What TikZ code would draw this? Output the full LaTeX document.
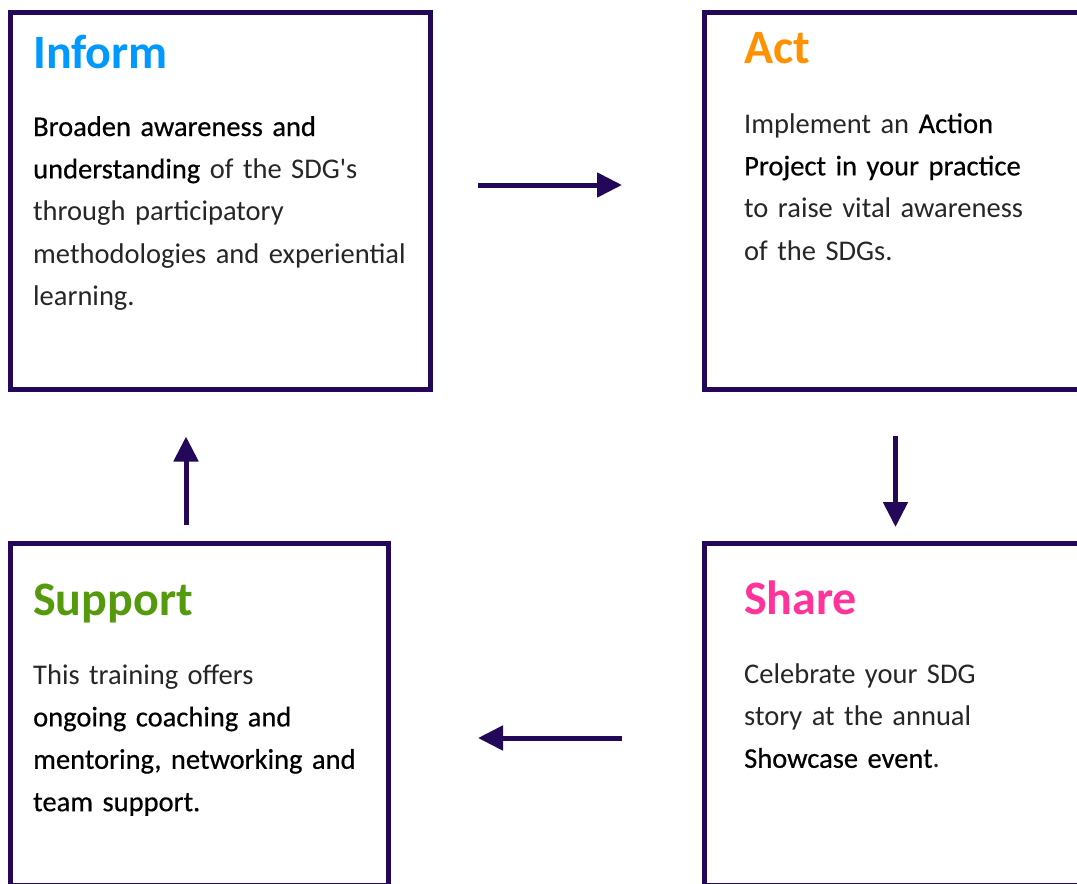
\documentclass[tikz,border=0pt]{standalone}
\usepackage{fontspec}
\setmainfont{Carlito}
\newfontfamily\heavyfont[FakeBold=0.5]{Carlito}
\usetikzlibrary{arrows.meta, shadows}

\definecolor{framepurple}{HTML}{230859}
\definecolor{informblue}{HTML}{0099FF}
\definecolor{actorange}{HTML}{FF9100}
\definecolor{supportgreen}{HTML}{559A0C}
\definecolor{sharepink}{HTML}{FF3399}

\newcommand{\keyword}[1]{{\heavyfont\color{black}#1}}

\tikzset{
	box/.style = {draw = framepurple, line width = 5pt, fill = white, outer sep = 0pt,
		drop shadow = {opacity = 0.15, shadow xshift = 2pt, shadow yshift = -2pt}},
	title/.style = {anchor = base west, inner sep = 0pt, text = #1,
		font = \fontsize{48}{56}\selectfont\bfseries},
	body/.style = {anchor = base west, inner sep = 0pt, text width = 400pt, align = left,
		text = black!85, font = \fontsize{28.5}{42.4}\selectfont},
	flow/.style = {draw = framepurple, line width = 5pt, -{Triangle[length = 25pt, width = 24pt]}}
}

\begin{document}
\begin{tikzpicture}[x = 1pt, y = -1pt]

	% Page frame
	
	\useasboundingbox (0, 0) rectangle (1077, 884);
	\clip (0, 0) rectangle (1077, 884);
	
	% The four boxes
	
	\node [box, minimum width = 420pt, minimum height = 377.5pt] (inform) at (220.5, 200.75) {};
	\node [box, minimum width = 420pt, minimum height = 377.5pt] (act) at (914, 200.75) {};
	\node [box, minimum width = 377.5pt, minimum height = 342pt] (support) at (199.25, 714) {};
	\node [box, minimum width = 420pt, minimum height = 342pt] (share) at (914, 714) {};
	
	% Titles
	
	\node [title = informblue] (informtitle) at ([shift = {(22.5, 56)}] inform.north west) {Inform};
	\node [title = actorange] (acttitle) at ([shift = {(40, 51)}] act.north west) {Act};
	\node [title = supportgreen] (supporttitle) at ([shift = {(22.5, 72)}] support.north west) {Support};
	\node [title = sharepink] (sharetitle) at ([shift = {(40, 71)}] share.north west) {Share};
	
	% Texts
	
	\node [body] (informtext) at ([shift = {(22.5, 124)}] inform.north west)
		{\keyword{Broaden awareness and}\\
		 \keyword{understanding} of the SDG\textquotesingle s\\
		 through participatory\\
		 methodologies and experiential\\
		 learning.};
	\node [body] (acttext) at ([shift = {(40, 121)}] act.north west)
		{Implement an \keyword{Action}\\
		 \keyword{Project in your practice}\\
		 to raise vital awareness\\
		 of the SDGs.};
	\node [body] (supporttext) at ([shift = {(22.5, 141)}] support.north west)
		{This training offers\\
		 \keyword{ongoing coaching and}\\
		 \keyword{mentoring, networking and}\\
		 \keyword{team support.}};
	\node [body] (sharetext) at ([shift = {(40, 140)}] share.north west)
		{Celebrate your SDG\\
		 story at the annual\\
		 \keyword{Showcase event}.};
	
	% Arrows between the boxes
	
	\coordinate (r0) at (478, 185);
	\coordinate (r1) at (622, 185);
	\coordinate (d0) at (895.5, 436);
	\coordinate (d1) at (895.5, 527);
	\coordinate (l0) at (622, 738);
	\coordinate (l1) at (478, 738);
	\coordinate (u0) at (186, 525);
	\coordinate (u1) at (186, 436.5);
	
	\draw [flow] (r0) -- (r1);
	\draw [flow] (d0) -- (d1);
	\draw [flow] (l0) -- (l1);
	\draw [flow] (u0) -- (u1);

\end{tikzpicture}
\end{document}
